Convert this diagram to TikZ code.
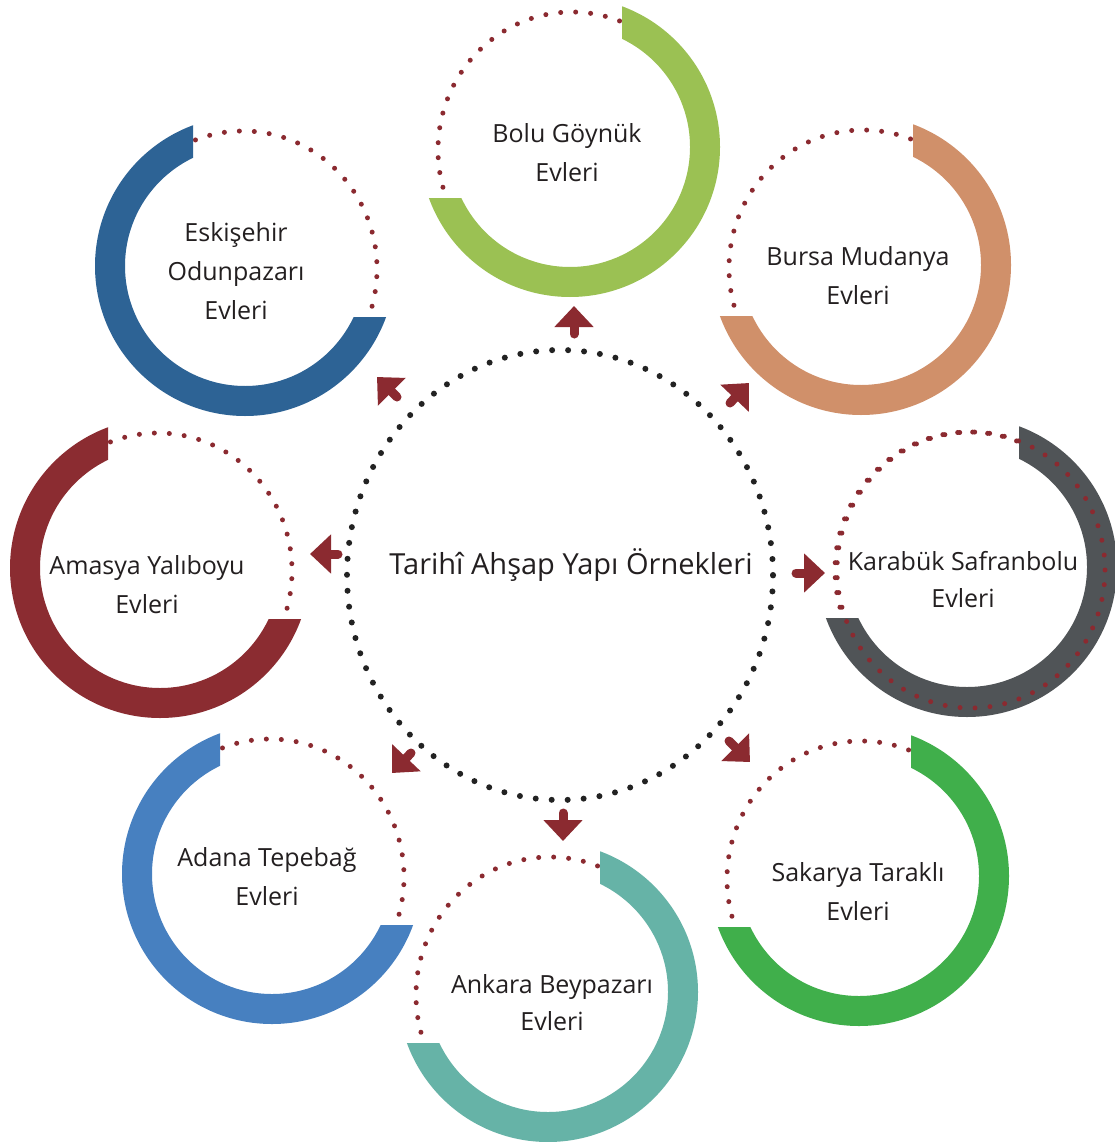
\documentclass[tikz,border=0pt]{standalone}
\usepackage{fontspec}
\setmainfont{Open Sans}
\usetikzlibrary{arrows.meta}
\definecolor{cBolu}{HTML}{9BC153}
\definecolor{cBursa}{HTML}{D0906A}
\definecolor{cKarabuk}{HTML}{505457}
\definecolor{cSakarya}{HTML}{40AF4B}
\definecolor{cAnkara}{HTML}{66B3A7}
\definecolor{cAdana}{HTML}{4780C0}
\definecolor{cAmasya}{HTML}{8B2C31}
\definecolor{cEskisehir}{HTML}{2D6395}
\definecolor{dotred}{HTML}{8B2A30}
\definecolor{dotblack}{HTML}{222222}
\definecolor{arrowred}{HTML}{8B2A30}
\definecolor{txt}{HTML}{231F20}
\tikzset{
  reddots/.style={draw=dotred, line width=5pt, line cap=round, dash pattern=on 0pt off 15pt},
  blackdots/.style={draw=dotblack, line width=6pt, line cap=round, dash pattern=on 0pt off 16pt},
  blockarrow/.style={draw=arrowred, line width=9pt, line cap=round, -{Triangle[length=21pt,width=38pt]}},
  lbl/.style={anchor=base, inner sep=0pt, text=txt, font=\fontsize{25}{39}\selectfont},
  lbltight/.style={lbl, font=\fontsize{25}{37}\selectfont},
}
% #1 cx, #2 cy, #3 colour, #4 mirror (1 or -1)
\newcommand\mkring[4]{%
  \begin{scope}[shift={(#1,#2)}, xscale=#4]
    \path[reddots] (2,3) ellipse [x radius=134pt, y radius=138pt];
    \begin{scope}
      \clip (52,-200) -- (200,-200) -- (200,200) -- (-200,200) -- (-200,51) -- (52,51) -- cycle;
      \fill[#3, even odd rule] (0,0) circle[radius=150pt] (0,0) circle[radius=120pt];
    \end{scope}
  \end{scope}}
\newcommand\twolines[2]{\begin{tabular}[t]{@{}c@{}}#1\\#2\end{tabular}}
\newcommand\threelines[3]{\begin{tabular}[t]{@{}c@{}}#1\\#2\\#3\end{tabular}}
\begin{document}
\begin{tikzpicture}[x=1pt,y=-1pt]
\useasboundingbox (0,0) rectangle (1114,1142);
\fill[white] (0,0) rectangle (1114,1142);

% central dotted circle
\path[blackdots] (560,575) ellipse [x radius=213pt, y radius=225pt];

% rings
\mkring{570}{147}{cBolu}{1}
\mkring{861}{265}{cBursa}{1}
\mkring{967}{567}{cKarabuk}{1}
\mkring{859}{876}{cSakarya}{1}
\mkring{548}{992}{cAnkara}{1}
\mkring{272}{874}{cAdana}{-1}
\mkring{160}{568}{cAmasya}{-1}
\mkring{245}{266}{cEskisehir}{-1}
% Karabuk dots lie over its ring
\path[reddots] (971,570) ellipse [x radius=134pt, y radius=138pt];

% arrows
\coordinate (tN) at (574,334);   \coordinate (hN) at (574,306);
\coordinate (tNE) at (730,403);  \coordinate (hNE) at (749,383);
\coordinate (tNW) at (397,397);  \coordinate (hNW) at (377,377);
\coordinate (tW) at (338,554);   \coordinate (hW) at (310,554);
\coordinate (tE) at (796,573);   \coordinate (hE) at (825,573);
\coordinate (tSW) at (411,753);  \coordinate (hSW) at (392,773);
\coordinate (tSE) at (729,741);  \coordinate (hSE) at (750,762);
\coordinate (tS) at (563,813);   \coordinate (hS) at (563,841);
\foreach \d in {N,NE,NW,W,E,SW,SE,S}{\draw[blockarrow] (t\d) -- (h\d);}

% texts
\node[anchor=base, inner sep=0pt, text=txt, font=\fontsize{29}{35}\selectfont] (title) at (571,574) {Tarihî Ahşap Yapı Örnekleri};
\node[lbl] (bolu) at (567,143) {\twolines{Bolu Göynük}{Evleri}};
\node[lbl] (eskisehir) at (236,241) {\threelines{Eskişehir}{Odunpazarı}{Evleri}};
\node[lbl] (bursa) at (858,265) {\twolines{Bursa Mudanya}{Evleri}};
\node[lbl] (amasya) at (147,574) {\twolines{Amasya Yalıboyu}{Evleri}};
\node[lbltight] (karabuk) at (963,570) {\twolines{Karabük Safranbolu}{Evleri}};
\node[lbl] (adana) at (267,866) {\twolines{Adana Tepebağ}{Evleri}};
\node[lbl] (sakarya) at (858,881) {\twolines{Sakarya Taraklı}{Evleri}};
\node[lbltight] (ankara) at (552,993) {\twolines{Ankara Beypazarı}{Evleri}};
\end{tikzpicture}
\end{document}
